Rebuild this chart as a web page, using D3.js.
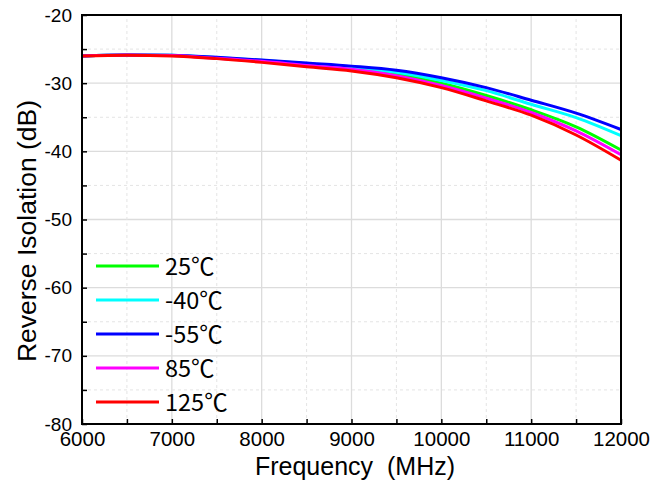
<!DOCTYPE html>
<html><head><meta charset="utf-8">
<script src="https://cdn.jsdelivr.net/npm/d3@7"></script>
<style>body{margin:0;background:#fff}svg{display:block}</style>
</head><body>
<script>
const freq = [6000,6500,7000,7500,8000,8500,9000,9500,10000,10500,11000,11500,12000];
const s25  = [-26.0,-25.85,-25.95,-26.3,-26.75,-27.3,-27.85,-28.7,-30.0,-31.8,-33.9,-36.4,-39.8];
const sM40 = [-26.0,-25.85,-25.9,-26.25,-26.65,-27.15,-27.65,-28.4,-29.6,-31.1,-33.1,-35.05,-37.7];
const sM55 = [-26.0,-25.85,-25.9,-26.2,-26.6,-27.05,-27.5,-28.1,-29.2,-30.65,-32.5,-34.4,-36.8];
const s85  = [-26.0,-25.85,-25.95,-26.35,-26.8,-27.4,-27.95,-28.9,-30.35,-32.2,-34.3,-37.0,-40.5];
const s125 = [-26.0,-25.9,-26.0,-26.4,-26.95,-27.6,-28.2,-29.2,-30.65,-32.6,-34.7,-37.6,-41.3];
const seriesNames = ["25℃","-40℃","-55℃","85℃","125℃"];
const seriesColors = ["#00ff00","#00ffff","#0000ff","#ff00ff","#ff0000"];
const seriesValues = [s25,sM40,sM55,s85,s125];
const xTicks = [6000,7000,8000,9000,10000,11000,12000];
const yTicks = [-80,-70,-60,-50,-40,-30,-20];

const W=665,H=483;
const m={l:82,r:44,t:15,b:59};
const svg=d3.select("body").append("svg").attr("width",W).attr("height",H);
const x=d3.scaleLinear().domain([6000,12000]).range([m.l,W-m.r]);
const y=d3.scaleLinear().domain([-80,-20]).range([H-m.b,m.t]);

const minorX=d3.range(6500,12000,1000), minorY=d3.range(-75,-20,10);
const g=svg.append("g");
g.selectAll(".gx").data(xTicks.slice(1,-1)).join("line").attr("x1",d=>x(d)).attr("x2",d=>x(d)).attr("y1",y(-80)).attr("y2",y(-20)).attr("stroke","#dcdcdc").attr("stroke-width",1.3);
g.selectAll(".gy").data(yTicks.slice(1,-1)).join("line").attr("y1",d=>y(d)).attr("y2",d=>y(d)).attr("x1",x(6000)).attr("x2",x(12000)).attr("stroke","#dcdcdc").attr("stroke-width",1.3);
g.selectAll(".mx").data(minorX).join("line").attr("x1",d=>x(d)).attr("x2",d=>x(d)).attr("y1",y(-80)).attr("y2",y(-20)).attr("stroke","#e4e4e4").attr("stroke-dasharray","3,3");
g.selectAll(".my").data(minorY).join("line").attr("y1",d=>y(d)).attr("y2",d=>y(d)).attr("x1",x(6000)).attr("x2",x(12000)).attr("stroke","#e4e4e4").attr("stroke-dasharray","3,3");

const line=d3.line().x((d,i)=>x(freq[i])).y(d=>y(d)).curve(d3.curveMonotoneX);
seriesValues.forEach((vals,k)=>{
  svg.append("path").datum(vals).attr("d",line).attr("fill","none").attr("stroke",seriesColors[k]).attr("stroke-width",3);
});

// axes
const xa=svg.append("g").attr("transform",`translate(0,${y(-80)})`)
  .call(d3.axisBottom(x).tickValues(d3.range(6000,12001,500)).tickSize(-5).tickPadding(6.5).tickFormat(d=>xTicks.includes(d)?d:""));
const ya=svg.append("g").attr("transform",`translate(${x(6000)},0)`)
  .call(d3.axisLeft(y).tickValues(d3.range(-80,-19,5)).tickSize(-5).tickPadding(10).tickFormat(d=>yTicks.includes(d)?d:""));
[xa,ya].forEach(a=>{a.select(".domain").remove();a.selectAll(".tick line").attr("stroke","#000").attr("stroke-width",1.5);
  a.selectAll("text").attr("font-family","Liberation Sans, Arial, sans-serif").attr("fill","#000");});
xa.selectAll("text").attr("font-size",20.5).attr("dy","0.75em");
ya.selectAll("text").attr("font-size",19);
svg.append("rect").attr("x",x(6000)).attr("y",y(-20)).attr("width",x(12000)-x(6000)).attr("height",y(-80)-y(-20))
  .attr("fill","none").attr("stroke","#000").attr("stroke-width",2);

svg.append("text").attr("x",355).attr("y",475).attr("text-anchor","middle")
  .attr("font-family","Liberation Sans, Arial, sans-serif").attr("font-size",25).text("Frequency\u00a0\u00a0(MHz)");
svg.append("text").attr("transform",`translate(36,231) rotate(-90)`).attr("text-anchor","middle")
  .attr("font-family","Liberation Sans, Arial, sans-serif").attr("font-size",26.5).text("Reverse Isolation (dB)");

const leg=svg.append("g");
seriesNames.forEach((n,k)=>{
  const yy=266+k*34;
  leg.append("line").attr("x1",96).attr("x2",159).attr("y1",yy).attr("y2",yy).attr("stroke",seriesColors[k]).attr("stroke-width",3);
  leg.append("text").attr("x",165).attr("y",yy+9).attr("font-family","Noto Sans CJK SC, sans-serif").attr("font-size",23.5).text(n);
});
</script>
</body></html>
